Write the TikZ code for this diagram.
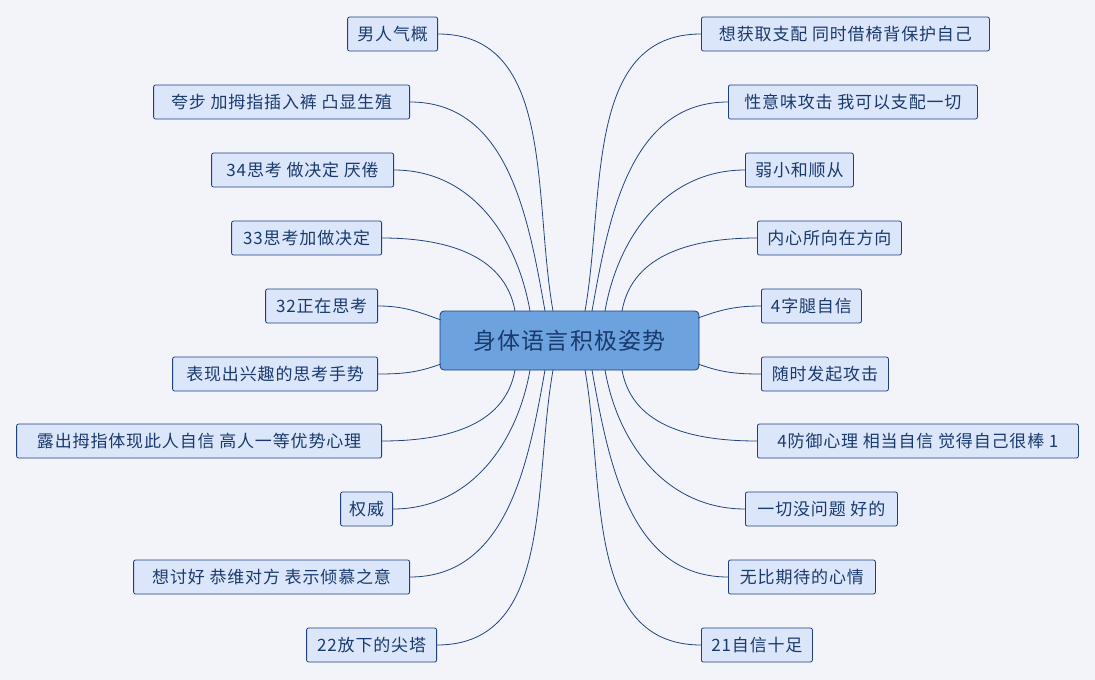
\documentclass[tikz,border=0pt]{standalone}
\usepackage{fontspec}
\setmainfont{Noto Sans CJK SC}[LetterSpace=5]
\begin{document}
\begin{tikzpicture}[x=1pt,y=-1pt,
  leaf/.style={draw=bd,fill=lf,rounded corners=2pt,text=tx,font=\fontsize{17}{18}\selectfont,minimum height=34pt,inner xsep=2pt,line width=0.8pt},
  link/.style={draw=ln,line width=0.8pt}]
\definecolor{bg}{HTML}{F2F4FA}
\definecolor{bd}{HTML}{1F3F7F}
\definecolor{lf}{HTML}{DCE6FA}
\definecolor{tx}{HTML}{1A3A6E}
\definecolor{ln}{HTML}{22457F}
\definecolor{cf}{HTML}{6CA2DE}
\fill[bg] (0,0) rectangle (1095,680);
\useasboundingbox (0,0) rectangle (1095,680);
\node[draw=bd,fill=cf,rounded corners=4pt,minimum width=259pt,minimum height=59pt,text=tx,line width=0.8pt,font=\fontsize{23}{26}\selectfont] (c) at (569.5,340.5) {身体语言积极姿势};
\foreach \n/\x/\y/\w/\t in {L1/438/34/90/男人气概, L2/410/102/256/夸步 加拇指插入裤 凸显生殖, L3/394/170/182/34思考 做决定 厌倦, L4/382/238/150/33思考加做决定, L5/378/306/112/32正在思考, L6/378/374/205/表现出兴趣的思考手势, L7/382/441/365/露出拇指体现此人自信 高人一等优势心理, L8/393/509/52/权威, L9/410/577/276/想讨好 恭维对方 表示倾慕之意, L10/437/645/130/22放下的尖塔}
  \node[leaf,anchor=east,minimum width=\w pt] (\n) at (\x,\y) {\t};
\foreach \n/\x/\y/\w/\t in {R1/701/34/288/想获取支配 同时借椅背保护自己, R2/728/102/249/性意味攻击 我可以支配一切, R3/745/170/108/弱小和顺从, R4/757/238/144/内心所向在方向, R5/761/306/100/4字腿自信, R6/761/374/127/随时发起攻击, R7/757/441/321/4防御心理 相当自信 觉得自己很棒 1, R8/745/509/152/一切没问题 好的, R9/728/577/147/无比期待的心情, R10/701/645/111/21自信十足}
  \node[leaf,anchor=west,minimum width=\w pt] (\n) at (\x,\y) {\t};
\foreach \n/\x/\y in {a1/553/311,a2/545/311,a3/530/311,a4/515/311,a7/515/370,a8/530/370,a9/545/370,a10/553/370,
  b1/585/311,b2/592/311,b3/605/311,b4/622/311,b7/622/370,b8/605/370,b9/592/370,b10/585/370}
  \coordinate (\n) at (\x,\y);
\coordinate (a5) at (441,320); \coordinate (a6) at (441,364);
\coordinate (b5) at (698,318); \coordinate (b6) at (698,364);
\foreach \i in {1,2,3,4} {
  \draw[link] (L\i.east) to[out=0,in=100] (a\i);
  \draw[link] (R\i.west) to[out=180,in=80] (b\i);}
\foreach \i in {7,8,9,10} {
  \draw[link] (L\i.east) to[out=0,in=-100] (a\i);
  \draw[link] (R\i.west) to[out=180,in=-80] (b\i);}
\draw[link] (L5.east) to[out=0,in=160] (a5);
\draw[link] (L6.east) to[out=0,in=200] (a6);
\draw[link] (R5.west) to[out=180,in=20] (b5);
\draw[link] (R6.west) to[out=180,in=-20] (b6);
\end{tikzpicture}
\end{document}
